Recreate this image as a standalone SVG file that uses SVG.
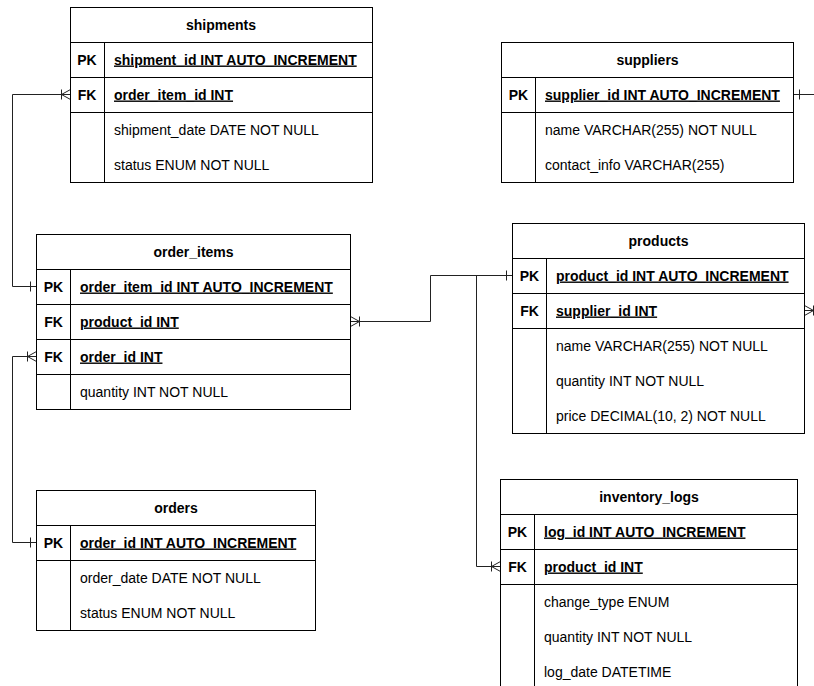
<svg xmlns="http://www.w3.org/2000/svg" width="814" height="686" viewBox="0 0 814 686">
<style>
.box{fill:#fff;stroke:#000;stroke-width:1}
.ln{stroke:#000;stroke-width:1;fill:none}
.cn{stroke:#222;stroke-width:1;fill:none}
text{font-family:"Liberation Sans",Arial,Helvetica,sans-serif;font-size:14px;fill:#000}
.t{font-weight:bold;text-anchor:middle}
.k{font-weight:bold;text-anchor:middle}
.ku{font-weight:bold;text-decoration:underline}
</style>
<rect width="814" height="686" fill="#fff"/>
<g id="connectors">
  <!-- order_items.PK -> shipments.FK -->
  <path class="cn" d="M36.5,286.5 H12.5 V94.5 H70.5"/>
  <path class="cn" d="M30.5,281.5 V291.5"/>
  <path class="cn" d="M61.5,89.5 V99.5 M61.5,94.5 L70.5,89.5 M61.5,94.5 L70.5,99.5"/>
  <!-- orders.PK -> order_items.FK order_id -->
  <path class="cn" d="M36.5,542.5 H12.5 V356.5 H36.5"/>
  <path class="cn" d="M30.5,537.5 V547.5"/>
  <path class="cn" d="M27.5,351.5 V361.5 M27.5,356.5 L36.5,351.5 M27.5,356.5 L36.5,361.5"/>
  <!-- products.PK -> order_items.FK product_id -->
  <path class="cn" d="M350.5,321.5 H430.5 V275.5 H512.5"/>
  <path class="cn" d="M506.5,270.5 V280.5"/>
  <path class="cn" d="M359.5,316.5 V326.5 M359.5,321.5 L350.5,316.5 M359.5,321.5 L350.5,326.5"/>
  <!-- products.PK -> inventory_logs.FK -->
  <path class="cn" d="M476.5,275.5 V566.5 H500.5"/>
  <path class="cn" d="M491.5,561.5 V571.5 M491.5,566.5 L500.5,561.5 M491.5,566.5 L500.5,571.5"/>
  <!-- suppliers.PK -> products.FK (off canvas) -->
  <path class="cn" d="M793.5,94.5 H814"/>
  <path class="cn" d="M799.5,89.5 V99.5"/>
  <path class="cn" d="M804.5,310.5 H814"/>
  <path class="cn" d="M813.5,305.5 V315.5 M813.5,310.5 L804.5,305.5 M813.5,310.5 L804.5,315.5"/>
</g>
<g id="shipments">
  <rect class="box" x="70.5" y="7.5" width="302" height="175"/>
  <path class="ln" d="M70.5,42.5 H372.5 M70.5,77.5 H372.5 M70.5,112.5 H372.5 M104.5,42.5 V182.5"/>
  <text class="t" x="221" y="29.5">shipments</text>
  <text class="k" x="87" y="64.5">PK</text>
  <text class="ku" x="114" y="64.5">shipment_id INT AUTO_INCREMENT</text>
  <text class="k" x="87" y="99.5">FK</text>
  <text class="ku" x="114" y="99.5">order_item_id INT</text>
  <text x="114" y="134.5">shipment_date DATE NOT NULL</text>
  <text x="114" y="169.5">status ENUM NOT NULL</text>
</g>
<g id="suppliers">
  <rect class="box" x="501.5" y="42.5" width="292" height="140"/>
  <path class="ln" d="M501.5,77.5 H793.5 M501.5,112.5 H793.5 M535.5,77.5 V182.5"/>
  <text class="t" x="647.5" y="64.5">suppliers</text>
  <text class="k" x="518.5" y="99.5">PK</text>
  <text class="ku" x="545" y="99.5">supplier_id INT AUTO_INCREMENT</text>
  <text x="545" y="134.5">name VARCHAR(255) NOT NULL</text>
  <text x="545" y="169.5">contact_info VARCHAR(255)</text>
</g>
<g id="order_items">
  <rect class="box" x="36.5" y="234.5" width="314" height="175"/>
  <path class="ln" d="M36.5,269.5 H350.5 M36.5,304.5 H350.5 M36.5,339.5 H350.5 M36.5,374.5 H350.5 M70.5,269.5 V409.5"/>
  <text class="t" x="193.5" y="256.5">order_items</text>
  <text class="k" x="53.5" y="291.5">PK</text>
  <text class="ku" x="80" y="291.5">order_item_id INT AUTO_INCREMENT</text>
  <text class="k" x="53.5" y="326.5">FK</text>
  <text class="ku" x="80" y="326.5">product_id INT</text>
  <text class="k" x="53.5" y="361.5">FK</text>
  <text class="ku" x="80" y="361.5">order_id INT</text>
  <text x="80" y="396.5">quantity INT NOT NULL</text>
</g>
<g id="products">
  <rect class="box" x="512.5" y="223.5" width="292" height="210"/>
  <path class="ln" d="M512.5,258.5 H804.5 M512.5,293.5 H804.5 M512.5,328.5 H804.5 M546.5,258.5 V433.5"/>
  <text class="t" x="658.5" y="245.5">products</text>
  <text class="k" x="529.5" y="280.5">PK</text>
  <text class="ku" x="556" y="280.5">product_id INT AUTO_INCREMENT</text>
  <text class="k" x="529.5" y="315.5">FK</text>
  <text class="ku" x="556" y="315.5">supplier_id INT</text>
  <text x="556" y="350.5">name VARCHAR(255) NOT NULL</text>
  <text x="556" y="385.5">quantity INT NOT NULL</text>
  <text x="556" y="420.5">price DECIMAL(10, 2) NOT NULL</text>
</g>
<g id="orders">
  <rect class="box" x="36.5" y="490.5" width="279" height="140"/>
  <path class="ln" d="M36.5,525.5 H315.5 M36.5,560.5 H315.5 M70.5,525.5 V630.5"/>
  <text class="t" x="176" y="512.5">orders</text>
  <text class="k" x="53.5" y="547.5">PK</text>
  <text class="ku" x="80" y="547.5">order_id INT AUTO_INCREMENT</text>
  <text x="80" y="582.5">order_date DATE NOT NULL</text>
  <text x="80" y="617.5">status ENUM NOT NULL</text>
</g>
<g id="inventory_logs">
  <rect class="box" x="500.5" y="479.5" width="297" height="210"/>
  <path class="ln" d="M500.5,514.5 H797.5 M500.5,549.5 H797.5 M500.5,584.5 H797.5 M534.5,514.5 V689.5"/>
  <text class="t" x="649" y="501.5">inventory_logs</text>
  <text class="k" x="517.5" y="536.5">PK</text>
  <text class="ku" x="544" y="536.5">log_id INT AUTO_INCREMENT</text>
  <text class="k" x="517.5" y="571.5">FK</text>
  <text class="ku" x="544" y="571.5">product_id INT</text>
  <text x="544" y="606.5">change_type ENUM</text>
  <text x="544" y="641.5">quantity INT NOT NULL</text>
  <text x="544" y="676.5">log_date DATETIME</text>
</g>
</svg>
